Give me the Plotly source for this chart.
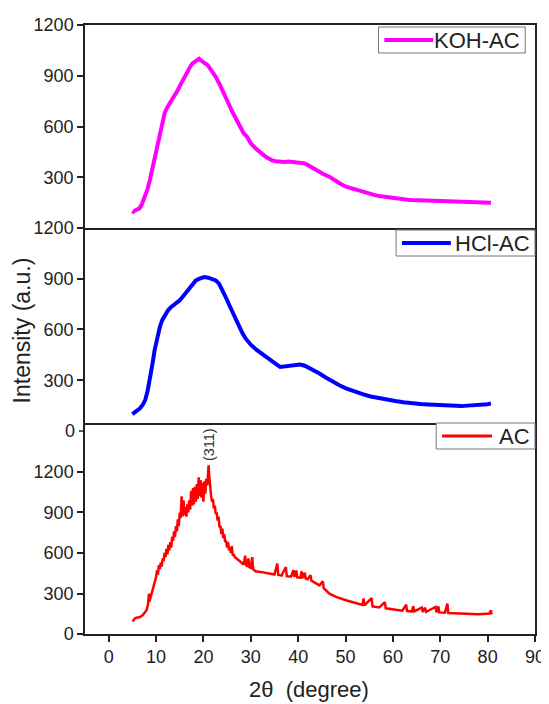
import plotly.graph_objects as go

# ---------------- data ----------------
koh_x = [5.0, 5.2, 5.6, 6.0, 6.5, 7.0, 7.7, 8.2, 8.7, 9.2, 9.7, 10.2, 10.8, 11.3, 11.8, 12.3,
         12.9, 13.3, 13.7, 14.2, 14.6, 15.3, 16.0, 16.7, 17.4, 17.8, 18.2, 18.7, 19.1, 19.4,
         19.6, 20.2, 20.9, 21.7, 22.6, 23.5, 24.4, 25.2, 26.1, 27.2, 28.5, 29.2, 30.0, 31.0,
         32.0, 32.7, 33.5, 34.5, 35.3, 36.2, 37.2, 38.0, 39.0, 39.7, 40.5, 41.4, 42.2, 43.2,
         44.3, 45.4, 46.6, 47.7, 48.9, 50.1, 51.0, 51.8, 52.7, 53.6, 54.5, 55.3, 56.2, 57.1,
         58.0, 58.8, 59.7, 60.5, 61.4, 62.2, 63.1, 64.0, 64.9, 65.8, 66.6, 67.5, 68.4, 69.3,
         70.1, 71.0, 71.9, 72.8, 73.6, 74.5, 75.4, 76.2, 77.1, 77.9, 78.6, 79.3, 80.0, 80.7]
koh_y = [100, 96, 104, 108, 116, 140, 185, 230, 284, 350, 421, 490, 560, 625, 678, 710,
         737, 752, 775, 790, 816, 855, 894, 930, 963, 975, 985, 990, 1000, 992,
         988, 980, 963, 930, 894, 845, 796, 742, 687, 630, 560, 540, 500, 471,
         445, 431, 415, 400, 395, 392, 390, 393, 390, 392, 388, 382, 370, 353,
         335, 318, 303, 282, 262, 244, 236, 228, 222, 215, 206, 200, 194, 189,
         185, 181, 178, 175, 172, 170, 167, 165, 164, 162, 161, 160, 158, 157,
         157, 156, 155, 154, 152, 152, 153, 152, 151, 152, 150, 151, 150, 150]

hcl_x = [5.0, 5.2, 5.8, 6.6, 7.2, 7.7, 8.2, 8.7, 9.2, 9.7, 10.2, 10.8, 11.3, 11.8, 12.5,
         13.2, 14.1, 15.0, 15.8, 16.7, 17.5, 18.4, 19.3, 20.2, 21.0, 21.9, 22.6, 23.3,
         24.0, 24.7, 25.4, 26.1, 26.8, 27.5, 28.2, 28.9, 30.0, 31.3, 32.7, 34.1, 35.2,
         36.2, 37.2, 38.3, 39.3, 40.4, 41.4, 42.4, 43.5, 44.5, 45.9, 47.3, 48.7, 50.1,
         51.8, 53.6, 55.3, 57.1, 58.8, 60.5, 62.2, 64.0, 65.8, 67.5, 69.3, 71.0, 72.8,
         74.5, 75.8, 77.2, 78.2, 79.3, 80.0, 80.7]
hcl_y = [100, 104, 118, 134, 155, 183, 235, 301, 390, 478, 550, 615, 655, 684, 712,
         733, 752, 773, 800, 831, 860, 890, 902, 910, 906, 900, 890, 871,
         835, 792, 748, 703, 660, 615, 580, 547, 510, 478, 447, 419, 398,
         379, 383, 389, 392, 393, 386, 373, 358, 340, 315, 291, 270, 252,
         234, 218, 204, 193, 184, 177, 170, 163, 160, 157, 153, 149, 148,
         147, 150, 153, 150, 153, 158, 163]

ac_x = [5.0, 5.2, 5.6, 6.0, 6.6, 7.2, 7.6, 8.0, 8.3, 8.5, 8.6, 8.9, 9.2, 9.5, 9.7,
        10.0, 10.2, 10.4, 10.6, 10.8, 11.0, 11.2, 11.4, 11.6, 11.8, 12.0, 12.2, 12.4,
        12.6, 12.8, 13.0, 13.2, 13.4, 13.6, 13.8, 14.0, 14.2, 14.4, 14.6, 14.8, 15.0,
        15.2, 15.4, 15.6, 15.8, 16.0, 16.2, 16.4, 16.6, 16.8, 17.0, 17.2, 17.4, 17.6,
        17.8, 18.0, 18.2, 18.4, 18.6, 18.8, 19.0, 19.2, 19.4, 19.6, 19.8, 20.0, 20.2,
        20.4, 20.6, 20.8, 21.0, 21.1, 21.2, 21.4, 21.6, 21.8, 22.0, 22.2, 22.4, 22.6,
        22.8, 23.0, 23.2, 23.4, 23.6, 23.8, 24.0, 24.2, 24.4, 24.6, 24.8, 25.0, 25.2,
        25.4, 25.6, 25.8, 26.0, 26.2, 26.4, 26.6, 27.0, 27.5, 28.0, 28.5, 28.8, 29.0,
        29.3, 29.5, 29.7, 30.0, 30.3, 30.5, 31.0, 32.0, 33.0, 34.0, 35.0, 35.6, 35.8,
        36.5, 37.4, 37.6, 38.5, 39.0, 39.2, 39.6, 39.8, 40.5, 40.7, 41.0, 41.4, 41.6,
        42.0, 42.6, 42.8, 43.5, 44.5, 45.2, 45.4, 46.6, 48.0, 50.1, 52.0, 53.6, 53.8,
        54.0, 55.5, 55.7, 57.1, 58.3, 58.5, 60.5, 62.0, 62.8, 63.0, 64.0, 64.3, 64.5,
        66.1, 66.3, 66.8, 67.0, 69.0, 69.2, 69.6, 69.8, 71.0, 71.5, 71.7, 73.0, 74.5,
        76.0, 77.9, 79.0, 80.4, 80.7, 80.8]
ac_y = [105, 100, 118, 120, 126, 140, 155, 176, 220, 300, 240, 280, 320, 345, 373,
        420, 470, 440, 510, 480, 530, 500, 560, 540, 600, 570, 630, 590,
        660, 620, 680, 640, 720, 690, 760, 720, 800, 760, 850, 800, 900,
        860, 1020, 870, 990, 880, 940, 870, 960, 900, 990, 920, 1060, 950,
        1080, 960, 1090, 980, 1110, 1000, 1160, 1020, 1140, 1010, 1120, 980, 1130,
        1040, 1150, 1100, 1200, 1250, 1180, 1080, 1030, 980, 1000, 930, 950, 890,
        900, 840, 870, 790, 800, 740, 780, 710, 740, 680, 690, 640, 680,
        620, 640, 600, 650, 580, 590, 570, 560, 545, 530, 515, 580, 510,
        500, 560, 495, 490, 570, 480, 465, 460, 455, 448, 440, 521, 438,
        432, 496, 428, 425, 472, 423, 470, 420, 418, 464, 415, 455, 410,
        405, 435, 395, 380, 360, 390, 340, 299, 275, 250, 232, 216, 263,
        212, 265, 204, 196, 235, 190, 181, 173, 218, 170, 168, 205, 167,
        196, 164, 195, 163, 200, 160, 205, 160, 158, 225, 156, 154, 151,
        149, 146, 148, 151, 175, 145]

x_ticks = [0, 10, 20, 30, 40, 50, 60, 70, 80, 90]
top_ticks = [300, 600, 900, 1200]
mid_ticks = [300, 600, 900, 1200]
bot_ticks = [0, 300, 600, 900, 1200]

series_names = ["KOH-AC", "HCl-AC", "AC"]
series_colors = ["#FF00FF", "#0000FF", "#FF0000"]

# ---------------- figure ----------------
# The page body keeps the browser's default 8 px margin, so the figure is
# sized and offset so that its plot frame lands where the reference draws it.
FONT = "Arial, Liberation Sans, sans-serif"
PAGE_OFF = 8
PLOT_L, PLOT_R, PLOT_T, PLOT_B = 85, 545, 25, 634   # page pixels


def px(x):   # page x pixel -> paper fraction
    return (x - PLOT_L) / (PLOT_R - PLOT_L)


def py(y):   # page y pixel -> paper fraction
    return (PLOT_B - y) / (PLOT_B - PLOT_T)


fig = go.Figure()
fig.add_trace(go.Scatter(x=koh_x, y=koh_y, mode="lines", name=series_names[0],
                         line=dict(color=series_colors[0], width=4),
                         xaxis="x", yaxis="y"))
fig.add_trace(go.Scatter(x=hcl_x, y=hcl_y, mode="lines", name=series_names[1],
                         line=dict(color=series_colors[1], width=4),
                         xaxis="x2", yaxis="y2"))
fig.add_trace(go.Scatter(x=ac_x, y=ac_y, mode="lines", name=series_names[2],
                         line=dict(color=series_colors[2], width=2.5),
                         xaxis="x3", yaxis="y3"))

TICK_SIZE = 18
tickfont = dict(family=FONT, size=TICK_SIZE, color="#222")
line_style = dict(showline=True, linecolor="#222", linewidth=1.5,
                  showgrid=False, zeroline=False)
ytick_common = dict(ticks="outside", ticklen=6, tickwidth=1.5, tickcolor="#222",
                    tickfont=tickfont, mirror=True)

xrange = [-5, 90]
fig.update_layout(
    width=549 - PAGE_OFF, height=704 - PAGE_OFF,
    margin=dict(l=PLOT_L - PAGE_OFF, r=549 - PLOT_R, t=PLOT_T - PAGE_OFF,
                b=704 - PLOT_B),
    paper_bgcolor="white", plot_bgcolor="white",
    font=dict(family=FONT, color="#222"),
    showlegend=False,
    # top panel draws both its top and bottom edges; the lower panels only
    # draw their bottom edges so the shared borders stay single lines
    xaxis=dict(domain=[0, 1], range=xrange, anchor="y", showticklabels=False,
               ticks="", mirror=True, **line_style),
    xaxis2=dict(domain=[0, 1], range=xrange, anchor="y2", showticklabels=False,
                ticks="", matches="x", mirror=False, **line_style),
    xaxis3=dict(domain=[0, 1], range=xrange, anchor="y3", tickvals=x_ticks,
                ticks="outside", ticklen=6, tickwidth=1.5, tickcolor="#222",
                tickfont=tickfont, ticklabeloverflow="allow", matches="x",
                mirror=False, **line_style),
    yaxis=dict(domain=[py(228), 1.0], range=[0, 1200], anchor="x", tickvals=top_ticks,
               **ytick_common, **line_style),
    yaxis2=dict(domain=[py(422.7), py(228)], range=[49, 1200], anchor="x2",
                tickvals=mid_ticks, **ytick_common, **line_style),
    yaxis3=dict(domain=[0, py(422.7)], range=[0, 1565], anchor="x3", tickvals=bot_ticks,
                **ytick_common, **line_style),
)

# "0" label of the middle panel, which sits just below its frame
fig.add_annotation(xref="paper", yref="paper", x=0, y=py(431), text="0",
                   showarrow=False, xanchor="right", yanchor="middle", xshift=-8,
                   font=dict(family=FONT, size=TICK_SIZE, color="#222"))
fig.add_shape(type="line", xref="paper", yref="paper", xsizemode="pixel",
              xanchor=0, x0=-6, x1=0, y0=py(431), y1=py(431),
              line=dict(color="#222", width=1.5))

# legend boxes in the Origin style (box, line sample, label), one per panel
legend_boxes = [  # (box x0, x1, y0, y1, line x0, x1, line width) in page pixels
    (385, 535, 27, 53, 391, 441, 4),
    (403, 545, 230, 256, 409, 459, 4),
    (444, 545, 423, 449, 450, 501, 3),
]
for name, color, (bx0, bx1, by0, by1, lx0, lx1, lw) in zip(series_names, series_colors,
                                                           legend_boxes):
    fig.add_shape(type="rect", xref="paper", yref="paper", layer="above",
                  x0=px(bx0), x1=px(bx1), y0=py(by1), y1=py(by0),
                  fillcolor="white", line=dict(color="#777", width=1))
    ym = (by0 + by1) / 2
    fig.add_shape(type="line", xref="paper", yref="paper", layer="above",
                  x0=px(lx0), x1=px(lx1), y0=py(ym), y1=py(ym),
                  line=dict(color=color, width=lw))
    fig.add_annotation(xref="paper", yref="paper", x=px(bx1 - 3), y=py(ym + 0.5),
                       text=name, showarrow=False, xanchor="right", yanchor="middle",
                       font=dict(family=FONT, size=22, color="#222"))

# peak label
fig.add_annotation(xref="x3", yref="y3", x=21.2, y=1400, text="(311)", textangle=-90,
                   showarrow=False, font=dict(family=FONT, size=14.5, color="#333"))

# axis titles
fig.add_annotation(xref="paper", yref="paper", x=px(21), y=py(330),
                   text="Intensity (a.u.)", textangle=-90, showarrow=False,
                   xanchor="center", yanchor="middle",
                   font=dict(family=FONT, size=23, color="#222"))
fig.add_annotation(xref="paper", yref="paper", x=px(314), y=py(690),
                   text="2θ  (degree)", showarrow=False, xanchor="center",
                   yanchor="middle", font=dict(family=FONT, size=22, color="#222"))

fig.write_html("out.html")
